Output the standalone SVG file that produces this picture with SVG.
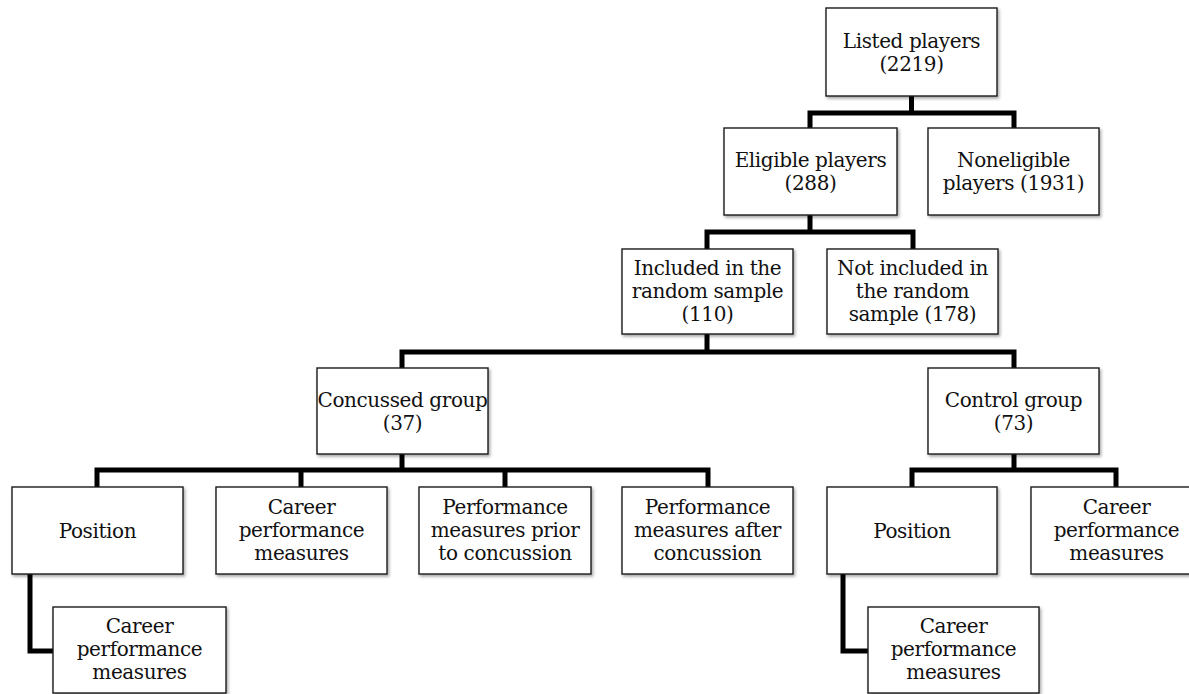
<svg xmlns="http://www.w3.org/2000/svg" width="1189" height="694" viewBox="0 0 1189 694">
<defs>
<filter id="sh" x="-10%" y="-10%" width="125%" height="130%">
<feDropShadow dx="1.5" dy="2" stdDeviation="1.5" flood-color="#000" flood-opacity="0.35"/>
</filter>
<style>
.box{fill:#fff;stroke:#1a1a1a;stroke-width:1.4;filter:url(#sh)}
.t{font-family:"DejaVu Serif","Liberation Serif",serif;font-size:20px;letter-spacing:-0.4px;fill:#111;text-anchor:middle}
.c{fill:none;stroke:#000;stroke-width:5;stroke-linejoin:miter;stroke-linecap:square}
</style>
</defs>
<rect width="1189" height="694" fill="#fff"/>
<g id="connectors">
<path class="c" d="M911.5 96V113M810 128V113H1014V128"/>
<path class="c" d="M810 215V232M707 249V232H913V249"/>
<path class="c" d="M707 334V352M402 368V352H1014V368"/>
<path class="c" d="M402 454V470M97 487V470H708V487M301 470V487M505 470V487"/>
<path class="c" d="M1014 454V470M912 487V470H1116V487"/>
<path class="c" d="M30 574V651H53"/>
<path class="c" d="M843 574V651H868"/>
</g>
<g id="listed"><rect class="box" x="826" y="8" width="171" height="88"/><text class="t" x="911.5" y="48">Listed players</text><text class="t" x="911.5" y="71">(2219)</text></g>
<g id="eligible"><rect class="box" x="724" y="128" width="173" height="87"/><text class="t" x="810.5" y="167">Eligible players</text><text class="t" x="810.5" y="190">(288)</text></g>
<g id="noneligible"><rect class="box" x="928" y="128" width="171" height="87"/><text class="t" x="1013.5" y="167">Noneligible</text><text class="t" x="1013.5" y="190">players (1931)</text></g>
<g id="included"><rect class="box" x="622" y="249" width="171" height="85"/><text class="t" x="707.5" y="275">Included in the</text><text class="t" x="707.5" y="298">random sample</text><text class="t" x="707.5" y="321">(110)</text></g>
<g id="notincluded"><rect class="box" x="827" y="249" width="171" height="85"/><text class="t" x="912.5" y="275">Not included in</text><text class="t" x="912.5" y="298">the random</text><text class="t" x="912.5" y="321">sample (178)</text></g>
<g id="concussed"><rect class="box" x="317" y="368" width="171" height="86"/><text class="t" x="402.5" y="407">Concussed group</text><text class="t" x="402.5" y="430">(37)</text></g>
<g id="control"><rect class="box" x="928" y="368" width="171" height="86"/><text class="t" x="1013.5" y="407">Control group</text><text class="t" x="1013.5" y="430">(73)</text></g>
<g id="position1"><rect class="box" x="12" y="487" width="171" height="87"/><text class="t" x="97.5" y="538">Position</text></g>
<g id="career1"><rect class="box" x="216" y="487" width="171" height="87"/><text class="t" x="301.5" y="514">Career</text><text class="t" x="301.5" y="537">performance</text><text class="t" x="301.5" y="560">measures</text></g>
<g id="prior"><rect class="box" x="419" y="487" width="172" height="87"/><text class="t" x="505" y="514">Performance</text><text class="t" x="505" y="537">measures prior</text><text class="t" x="505" y="560">to concussion</text></g>
<g id="after"><rect class="box" x="622" y="487" width="171" height="87"/><text class="t" x="707.5" y="514">Performance</text><text class="t" x="707.5" y="537">measures after</text><text class="t" x="707.5" y="560">concussion</text></g>
<g id="position2"><rect class="box" x="827" y="487" width="170" height="87"/><text class="t" x="912" y="538">Position</text></g>
<g id="career2"><rect class="box" x="1031" y="487" width="171" height="87"/><text class="t" x="1116.5" y="514">Career</text><text class="t" x="1116.5" y="537">performance</text><text class="t" x="1116.5" y="560">measures</text></g>
<g id="career1sub"><rect class="box" x="53" y="607" width="173" height="86"/><text class="t" x="139.5" y="633">Career</text><text class="t" x="139.5" y="656">performance</text><text class="t" x="139.5" y="679">measures</text></g>
<g id="career2sub"><rect class="box" x="868" y="607" width="171" height="86"/><text class="t" x="953.5" y="633">Career</text><text class="t" x="953.5" y="656">performance</text><text class="t" x="953.5" y="679">measures</text></g>
</svg>
